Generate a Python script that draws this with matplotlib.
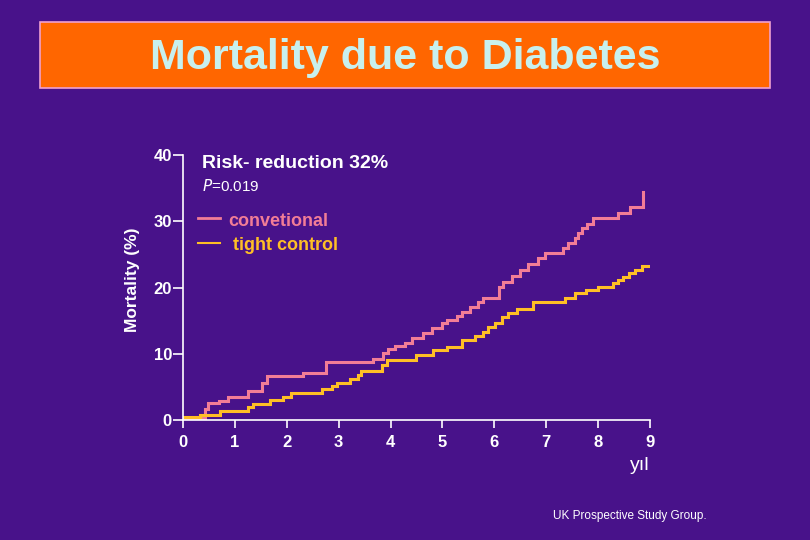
import matplotlib.pyplot as plt
from matplotlib.patches import Rectangle

plt.rcParams['font.family'] = ['Liberation Sans', 'DejaVu Sans']

# conventional therapy (step curve)
conv_t = [0, 0.42, 0.48, 0.69, 0.87, 1.25, 1.52, 1.62, 2.31, 2.76, 3.66, 3.85,
          3.95, 4.08, 4.28, 4.41, 4.62, 4.80, 4.99, 5.09, 5.28, 5.38, 5.53,
          5.68, 5.78, 6.09, 6.17, 6.34, 6.49, 6.65, 6.84, 6.97, 7.32, 7.42,
          7.55, 7.61, 7.69, 7.78, 7.90, 8.38, 8.61, 8.86]
conv_y = [0.3, 1.66, 2.57, 2.87, 3.47, 4.38, 5.58, 6.64, 7.09, 8.75, 9.2, 10.1,
          10.7, 11.2, 11.6, 12.4, 13.1, 13.9, 14.6, 15.1, 15.7, 16.3, 17.1,
          17.8, 18.4, 20.1, 20.8, 21.7, 22.6, 23.5, 24.5, 25.2, 26.0, 26.7,
          27.5, 28.2, 29.0, 29.6, 30.5, 31.2, 32.2, 34.4]

# tight control (step curve)
tight_t = [0, 0.33, 0.71, 1.25, 1.35, 1.68, 1.93, 2.08, 2.68, 2.87, 2.97, 3.22,
           3.37, 3.43, 3.83, 3.93, 4.49, 4.82, 5.09, 5.38, 5.63, 5.78, 5.88,
           6.01, 6.15, 6.26, 6.44, 6.74, 7.36, 7.55, 7.76, 8.00, 8.29, 8.38,
           8.48, 8.59, 8.71, 8.84, 9.0]
tight_y = [0.45, 0.83, 1.43, 1.96, 2.42, 3.02, 3.47, 4.08, 4.68, 5.2, 5.66, 6.19,
           6.79, 7.47, 8.23, 9.06, 9.81, 10.5, 11.0, 12.1, 12.7, 13.3, 14.0,
           14.6, 15.5, 16.2, 16.8, 17.8, 18.4, 19.2, 19.6, 20.1, 20.7, 21.1,
           21.6, 22.2, 22.6, 23.2, 23.2]

xticks = list(range(10))
yticks = [0, 10, 20, 30, 40]

bg = '#48128a'
pink = '#f27d96'
yellow = '#ffbf25'

fig = plt.figure(figsize=(8.1, 5.4), dpi=100, facecolor=bg)

# title banner
fig.patches.append(Rectangle((40 / 810, 1 - 88 / 540), 730 / 810, 66 / 540,
                             transform=fig.transFigure, facecolor='#ff6600',
                             edgecolor='#f0a0d0', linewidth=1.2))
fig.text(405 / 810, 1 - 58 / 540, 'Mortality due to Diabetes', ha='center',
         va='center', color='#c8f0ee', fontsize=31, fontweight='bold')

ax = fig.add_axes([183 / 810, 1 - 420 / 540, 467 / 810, 265 / 540])
ax.set_facecolor('none')
ax.plot(conv_t, conv_y, drawstyle='steps-post', color=pink, lw=2.2,
        solid_joinstyle='miter')
ax.plot(tight_t, tight_y, drawstyle='steps-post', color=yellow, lw=2.2,
        solid_joinstyle='miter')

ax.set_xlim(0, 9)
ax.set_ylim(0, 40)
ax.set_xticks(xticks)
ax.set_yticks(yticks)
for s in ['top', 'right']:
    ax.spines[s].set_visible(False)
for s in ['left', 'bottom']:
    ax.spines[s].set_color('white')
    ax.spines[s].set_linewidth(1.2)
ax.tick_params(colors='white', labelsize=12, width=1.2)
ax.tick_params(axis='y', length=7, pad=1)
ax.tick_params(axis='x', length=6, pad=5)
for lb in ax.get_xticklabels() + ax.get_yticklabels():
    lb.set_fontweight('bold')

fig.text(132 / 810, 1 - 280 / 540, 'Mortality (%)', rotation=90, ha='center',
         va='center', color='white', fontsize=12.5, fontweight='bold')

fig.text(202 / 810, 1 - 163 / 540, 'Risk- reduction 32%', ha='left',
         va='center', color='white', fontsize=14, fontweight='bold')
fig.text(202 / 810, 1 - 186 / 540, '$\\it{P}$=0.019', ha='left', va='center',
         color='white', fontsize=11)

fig.lines.append(plt.Line2D([198 / 810, 220 / 810], [1 - 218 / 540] * 2,
                            transform=fig.transFigure, color=pink, lw=2))
fig.text(228 / 810, 1 - 221 / 540, 'convetional', ha='left', va='center',
         color=pink, fontsize=13, fontweight='bold')
fig.lines.append(plt.Line2D([198 / 810, 220 / 810], [1 - 243 / 540] * 2,
                            transform=fig.transFigure, color=yellow, lw=1.5))
fig.text(233 / 810, 1 - 245 / 540, 'tight control', ha='left', va='center',
         color=yellow, fontsize=13, fontweight='bold')

fig.text(640 / 810, 1 - 466 / 540, 'yıl', ha='center', va='center',
         color='white', fontsize=14)
fig.text(630 / 810, 1 - 516 / 540, 'UK Prospective Study Group.', ha='center',
         va='center', color='white', fontsize=8.5)

fig.savefig('out.png', dpi=100, facecolor=bg)
